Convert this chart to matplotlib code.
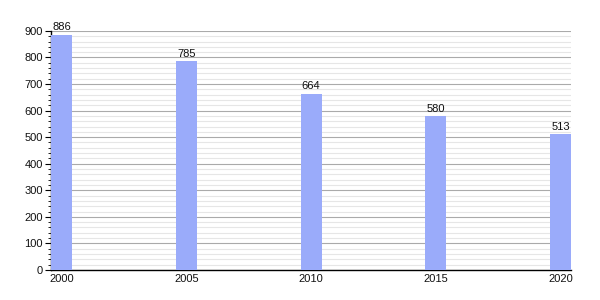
import matplotlib.pyplot as plt
import numpy as np
from matplotlib.ticker import MultipleLocator

plt.rcParams["font.family"] = ["Liberation Sans", "DejaVu Sans"]

years = ["2000", "2005", "2010", "2015", "2020"]
values = [886, 785, 664, 580, 513]

BAR_COLOR = "#9aabfa"
WIDTH = 0.168

fig = plt.figure(figsize=(6, 3), dpi=100)
ax = fig.add_axes([0.085, 0.1, 0.867, 0.797])

x = np.arange(len(years))
ax.bar(x, values, width=WIDTH, color=BAR_COLOR, zorder=3)
for xi, v in zip(x, values):
    ax.text(xi, v + 8, str(v), ha="center", va="bottom", fontsize=8, color="#111")

ax.set_xlim(-WIDTH / 2, len(years) - 1 + WIDTH / 2)
ax.set_ylim(0, 900)
ax.set_xticks(x)
ax.set_xticklabels(years)
ax.yaxis.set_major_locator(MultipleLocator(100))
ax.yaxis.set_minor_locator(MultipleLocator(20))

ax.grid(axis="y", which="major", color="#aaaaaa", lw=0.8, zorder=0)
ax.grid(axis="y", which="minor", color="#e6e6e6", lw=0.8, zorder=0)
ax.set_axisbelow(True)

for side in ("top", "right"):
    ax.spines[side].set_visible(False)
ax.spines["left"].set_linewidth(1.0)
ax.spines["bottom"].set_linewidth(1.0)

ax.tick_params(axis="y", which="major", length=4, labelsize=8, pad=2, labelcolor="#111")
ax.tick_params(axis="y", which="minor", length=2)
ax.tick_params(axis="x", length=0, labelsize=8, pad=3, labelcolor="#111")

fig.savefig("out.png", dpi=100)
